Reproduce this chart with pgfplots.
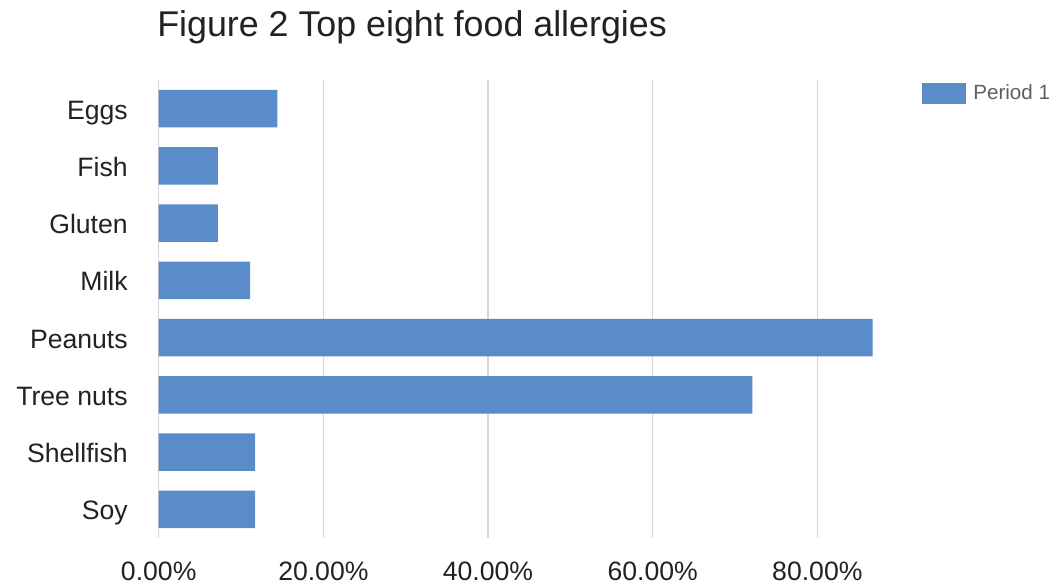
\documentclass[border=0pt]{standalone}
\usepackage{fontspec}
\setmainfont{Liberation Sans}
\usepackage{pgfplots}
\pgfplotsset{compat=1.18}

\definecolor{barblue}{HTML}{5A8CC9}
\definecolor{gridgray}{HTML}{D6D6D6}
\definecolor{axisgray}{HTML}{666666}
\definecolor{labeltext}{HTML}{222222}
\definecolor{legendtext}{HTML}{5F5F5F}

\begin{document}
\begin{tikzpicture}
\begin{axis}[
    scale only axis,
    width=370.5pt, height=229pt,
    xmin=0, xmax=90,
    ymin=-0.5, ymax=7.5,
    y dir=reverse,
    axis line style={draw=none},
    major tick length=0pt,
    xtick={0,20,40,60,80},
    xticklabels={0.00\%,20.00\%,40.00\%,60.00\%,80.00\%},
    xticklabel style={anchor=base, inner sep=0pt, yshift=-21pt,
        font=\fontsize{13.3}{15}\selectfont, text=labeltext},
    ytick={0,...,7},
    yticklabels={Eggs,Fish,Gluten,Milk,Peanuts,Tree nuts,Shellfish,Soy},
    yticklabel style={anchor=base east, inner sep=0pt, xshift=-15.3pt, yshift=-5.3pt,
        font=\fontsize{13.3}{15}\selectfont, text=labeltext},
    xmajorgrids,
    major x grid style={gridgray, line width=0.6pt},
    extra x ticks={0},
    extra x tick labels={},
    extra x tick style={grid=major, major grid style={axisgray, line width=0.6pt}},
    title={Figure 2 Top eight food allergies},
    title style={at={(rel axis cs:0,1)}, anchor=base west, inner sep=0pt,
        xshift=-0.9pt, yshift=16pt,
        font=\fontsize{17.9}{20}\selectfont, text=labeltext},
    legend style={at={(rel axis cs:1.030,1.0)}, anchor=north west,
        draw=none, fill=none, inner sep=0pt,
        font=\fontsize{10.3}{12}\selectfont, text=legendtext,
        legend cell align=left},
    legend image code/.code={
        \fill[barblue] (0pt,-5.4pt) rectangle (22pt,5.4pt);},
    legend style={/tikz/every even column/.append style={column sep=0pt}},
]
\addplot[xbar, bar width=0.656, fill=barblue, draw=none] coordinates {
    (14.4,0) (7.2,1) (7.2,2) (11.1,3) (86.7,4) (72.1,5) (11.7,6) (11.7,7)
};
\addlegendentry{\hspace{1.5pt}Period 1}
\end{axis}
\pgfresetboundingbox
\path (-79.35pt,-23pt) rectangle (449.65pt,269pt);
\end{tikzpicture}
\end{document}
